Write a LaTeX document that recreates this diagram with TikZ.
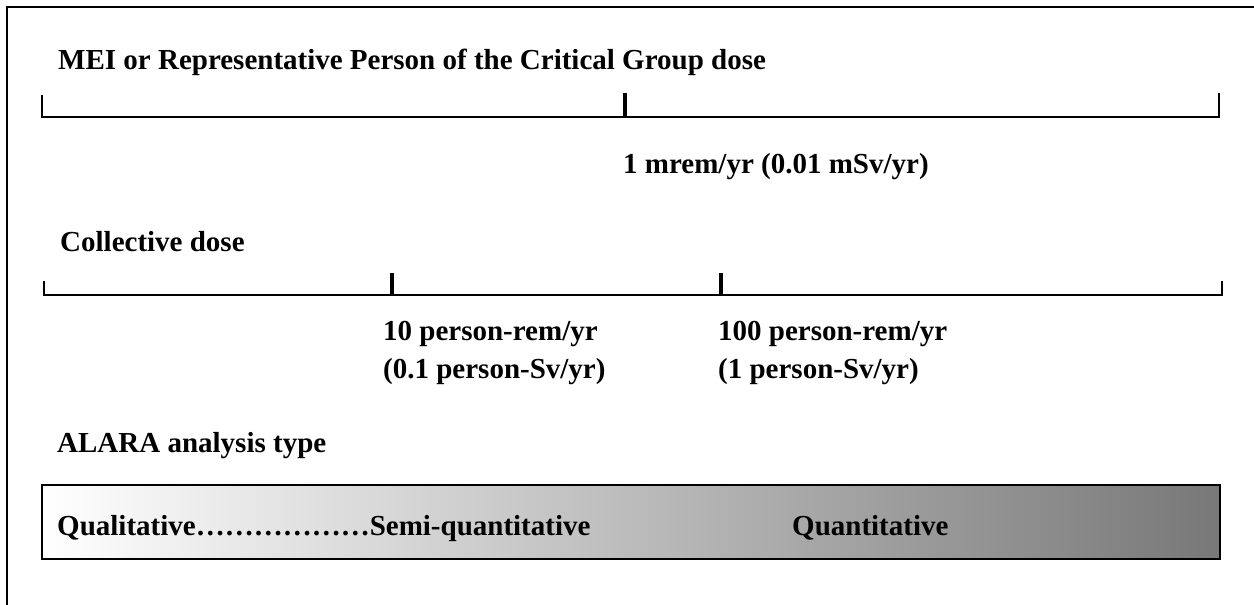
\documentclass[tikz,border=0pt]{standalone}
\usepackage{fontspec}
\setmainfont{Liberation Serif}

\begin{document}
\begin{tikzpicture}[
    x=1pt, y=-1pt,
    label/.style={font=\bfseries\fontsize{29}{34}\selectfont,anchor=base west,inner sep=0pt},
    scaleline/.style={line width=2pt},
    tickmark/.style={line width=3.2pt},
]
\useasboundingbox (0,0) rectangle (1254,605);
\clip (0,0) rectangle (1254,605);

% Outer frame
\draw[line width=2pt] (7,7) rectangle (1280,630);

% MEI dose scale
\node[label] (meiTitle) at (58,69) {MEI or Representative Person of the Critical Group dose};
\coordinate (meiLeft) at (42,117);
\coordinate (meiRight) at (1219,117);
\coordinate (meiMark) at (625,117);
\draw[scaleline] ([yshift=22pt]meiLeft) -- (meiLeft) -- (meiRight) -- ([yshift=24pt]meiRight);
\draw[tickmark] (meiMark) -- ++(0,-24);
\node[label] (meiLimit) at (623,173) {1 mrem/yr (0.01 mSv/yr)};

% Collective dose scale
\node[label] (collTitle) at (60,251) {Collective dose};
\coordinate (collLeft) at (44,295);
\coordinate (collRight) at (1222,295);
\coordinate (collMarkA) at (392,295);
\coordinate (collMarkB) at (721,295);
\draw[scaleline] ([yshift=14pt]collLeft) -- (collLeft) -- (collRight) -- ([yshift=14pt]collRight);
\draw[tickmark] (collMarkA) -- ++(0,-22);
\draw[tickmark] (collMarkB) -- ++(0,-22);
\node[label] (collLowA) at (383,340) {10 person-rem/yr};
\node[label] (collLowB) at (383,378) {(0.1 person-Sv/yr)};
\node[label] (collHighA) at (718,340) {100 person-rem/yr};
\node[label] (collHighB) at (718,378) {(1 person-Sv/yr)};

% ALARA analysis type
\node[label] (alaraTitle) at (57,452) {ALARA analysis type};
\shade[left color=white,right color=black!53] (42,485) rectangle (1220,559);
\draw[line width=2.5pt,black!40] (42,485) rectangle (1220,559);
\draw[line width=1.6pt] (42,485) rectangle (1220,559);
\node[label] (qualText) at (57,535) {Qualitative………………Semi-quantitative};
\node[label] (quantText) at (792,535) {Quantitative};
\end{tikzpicture}
\end{document}
